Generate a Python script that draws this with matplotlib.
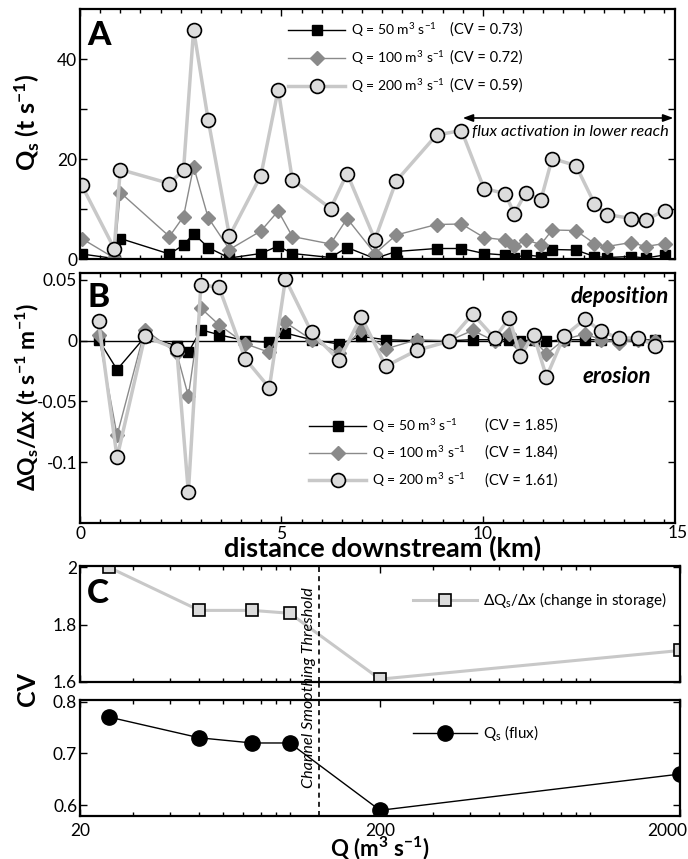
import numpy as np
import matplotlib
matplotlib.use("Agg")
import matplotlib.pyplot as plt
from matplotlib.ticker import FixedLocator, MultipleLocator, LogLocator, NullFormatter, FixedFormatter
import matplotlib.transforms as mtransforms

FONT = "Lato"
plt.rcParams["font.family"] = [FONT, "DejaVu Sans"]
plt.rcParams["mathtext.fontset"] = "custom"
plt.rcParams["mathtext.rm"] = FONT
plt.rcParams["mathtext.it"] = FONT + ":italic"
plt.rcParams["mathtext.bf"] = FONT + ":bold"
plt.rcParams["mathtext.default"] = "regular"
plt.rcParams["axes.unicode_minus"] = False

# ---------------- data ----------------
dist_km = [0.04, 0.85, 1.00, 2.22, 2.57, 2.82, 3.18, 3.71, 4.49, 4.92, 5.27, 6.22,
           6.63, 7.32, 7.85, 8.85, 9.47, 10.03, 10.55, 10.78, 11.07, 11.44, 11.72,
           12.31, 12.77, 13.08, 13.68, 14.04, 14.51]
qs_50 = [1.0, 0.1, 4.1, 1.0, 2.8, 5.1, 2.3, 0.2, 1.1, 2.6, 1.1, 0.3, 2.3, 0.1, 1.5,
         2.1, 2.1, 1.1, 0.8, 0.3, 0.8, 0.5, 1.9, 1.8, 0.5, 0.3, 0.5, 0.2, 0.8]
qs_100 = [4.1, 0.2, 13.3, 4.5, 8.5, 18.5, 8.3, 1.9, 5.6, 9.6, 4.5, 3.0, 8.1, 1.1, 4.8,
          6.9, 7.0, 4.3, 3.8, 2.6, 3.8, 2.9, 5.8, 5.7, 3.1, 2.5, 3.3, 2.5, 3.1]
qs_200 = [14.8, 2.1, 17.9, 15.1, 17.8, 45.9, 27.9, 4.6, 16.7, 33.9, 15.9, 10.1, 17.1,
          3.9, 15.6, 24.8, 25.7, 14.1, 13.1, 9.1, 13.3, 11.8, 20.1, 18.7, 11.1, 8.9,
          8.1, 7.8, 9.7]

mid_km = [0.46, 0.92, 1.61, 2.40, 2.69, 3.00, 3.45, 4.10, 4.70, 5.10, 5.75, 6.43,
          6.98, 7.59, 8.36, 9.16, 9.75, 10.29, 10.66, 10.93, 11.26, 11.58, 12.01,
          12.54, 12.93, 13.38, 13.86, 14.28]
dqdx_50 = [0.0008, -0.0238, 0.0030, -0.0041, -0.0096, 0.0090, 0.0049, 0.0000,
           -0.0014, 0.0063, 0.0008, -0.0027, 0.0035, 0.0008, 0.0000, 0.0000, 0.0008,
           0.0008, 0.0008, -0.0003, 0.0008, -0.0005, 0.0008, 0.0008, 0.0008, 0.0008,
           0.0008, 0.0008]
dqdx_100 = [0.0049, -0.0779, 0.0090, -0.0101, -0.0456, 0.0268, 0.0131, -0.0025,
            -0.0096, 0.0150, 0.0008, -0.0101, 0.0090, -0.0068, 0.0008, 0.0000, 0.0085,
            -0.0003, 0.0057, -0.0033, 0.0010, -0.0109, 0.0008, 0.0057, 0.0008, -0.0016,
            0.0008, 0.0000]
dqdx_200 = [0.0164, -0.0961, 0.0035, -0.0068, -0.1249, 0.0459, 0.0440, -0.0148,
            -0.0388, 0.0508, 0.0068, -0.0161, 0.0199, -0.0210, -0.0079, -0.0005, 0.0221,
            0.0022, 0.0186, -0.0128, 0.0049, -0.0298, 0.0036, 0.0178, 0.0077, 0.0022,
            0.0022, -0.0041]

labels_q = [r"Q = 50 m$^3$ s$^{-1}$", r"Q = 100 m$^3$ s$^{-1}$", r"Q = 200 m$^3$ s$^{-1}$"]
cv_labels_a = ["(CV = 0.73)", "(CV = 0.72)", "(CV = 0.59)"]
cv_labels_b = ["(CV = 1.85)", "(CV = 1.84)", "(CV = 1.61)"]

q_discharge = [25, 50, 75, 100, 200, 2000]
cv_dqdx = [2.00, 1.85, 1.85, 1.84, 1.61, 1.71]
cv_qs = [0.77, 0.73, 0.72, 0.72, 0.59, 0.66]
threshold_q = 125

# ---------------- styles ----------------
st50 = dict(color="black", lw=1.0, marker="s", ms=7.5, mfc="black", mec="black")
st100 = dict(color="#8a8a8a", lw=1.0, marker="D", ms=7, mfc="#8a8a8a", mec="#8a8a8a")
st200 = dict(color="#c8c8c8", lw=2.5, marker="o", ms=10, mfc="#dcdcdc", mec="black", mew=1.2)

W, H = 688, 859
fig = plt.figure(figsize=(W / 100, H / 100), dpi=100)


def px_axes(l, r, t, b):
    return fig.add_axes([l / W, 1 - b / H, (r - l) / W, (b - t) / H])


def style(ax):
    for s in ax.spines.values():
        s.set_linewidth(1.6)
    ax.tick_params(which="both", direction="in", top=True, right=True,
                   labelsize=12.5, width=1.0, pad=2)
    ax.tick_params(which="major", length=5)
    ax.tick_params(which="minor", length=3)


axA = px_axes(80, 675, 9, 259)
axB = px_axes(80, 675, 273, 523)
axC1 = px_axes(80, 680, 566, 682)
axC2 = px_axes(80, 680, 700, 816)

XMAX = 14.77
LEGFS = 10

# ---- Panel A ----
axA.plot(dist_km, qs_50, label=labels_q[0], **st50)
axA.plot(dist_km, qs_100, label=labels_q[1], **st100)
axA.plot(dist_km, qs_200, label=labels_q[2], **st200)
axA.set_xlim(0, XMAX)
axA.set_ylim(0, 50)
axA.xaxis.set_major_locator(FixedLocator([0, 5, 10]))
axA.xaxis.set_minor_locator(MultipleLocator(0.5))
axA.xaxis.set_major_formatter(NullFormatter())
axA.yaxis.set_major_locator(FixedLocator([0, 10, 20, 30, 40]))
axA.yaxis.set_major_formatter(FixedFormatter(["0", "", "20", "", "40"]))
style(axA)
legA = axA.legend(loc="upper left", bbox_to_anchor=(0.35, 0.952), frameon=False,
                  fontsize=LEGFS, handlelength=4.1, handletextpad=0.4, labelspacing=0.72,
                  borderpad=0, borderaxespad=0, numpoints=1)
for txt, cv in zip(legA.get_texts(), cv_labels_a):
    axA.annotate(cv, xy=(0.622, 0.5), xycoords=("axes fraction", txt),
                 va="center", ha="left", fontsize=LEGFS + 0.5, zorder=6)
axA.text(0.013, 0.856, "A", transform=axA.transAxes, fontsize=24,
         fontweight="black", ha="left", va="baseline")
axA.annotate("", xy=(14.73, 28.2), xytext=(9.5, 28.2),
             arrowprops=dict(arrowstyle="<|-|>,head_length=0.6,head_width=0.22",
                             color="black", lw=1.2, shrinkA=0, shrinkB=0))
axA.text(9.72, 25.3, "flux activation in lower reach", fontsize=11.8,
         style="italic", ha="left", va="center")

# ---- Panel B ----
axB.axhline(0, color="black", lw=1.0, zorder=1)
axB.plot(mid_km, dqdx_50, label=labels_q[0], **st50)
axB.plot(mid_km, dqdx_100, label=labels_q[1], **st100)
axB.plot(mid_km, dqdx_200, label=labels_q[2], **st200)
axB.set_xlim(0, XMAX)
axB.set_ylim(-0.15, 0.0557)
axB.xaxis.set_major_locator(FixedLocator([0, 5, 10]))
axB.xaxis.set_minor_locator(MultipleLocator(0.5))
axB.yaxis.set_major_locator(FixedLocator([-0.1, -0.05, 0, 0.05]))
axB.yaxis.set_major_formatter(FixedFormatter(["-0.1", "-0.05", "0", "0.05"]))
style(axB)
fig.text(688 / W, 1 - 533 / H, "15", ha="right", va="center", fontsize=12.5)
legB = axB.legend(loc="upper left", bbox_to_anchor=(0.385, 0.425), frameon=False,
                  fontsize=LEGFS, handlelength=4.1, handletextpad=0.4, labelspacing=0.68,
                  borderpad=0, borderaxespad=0, numpoints=1)
for txt, cv in zip(legB.get_texts(), cv_labels_b):
    axB.annotate(cv, xy=(0.681, 0.5), xycoords=("axes fraction", txt),
                 va="center", ha="left", fontsize=LEGFS + 0.5, zorder=6)
axB.text(0.013, 0.864, "B", transform=axB.transAxes, fontsize=24,
         fontweight="black", ha="left", va="baseline")
axB.text(14.62, 0.036, "deposition", fontsize=16, fontweight="bold",
         style="italic", ha="right", va="center")
axB.text(13.33, -0.0295, "erosion", fontsize=16, fontweight="bold",
         style="italic", ha="center", va="center")

# ---- Panel C ----
axC1.plot(q_discharge, cv_dqdx, color="#c8c8c8", lw=2.2, marker="s", ms=9,
          mfc="#dcdcdc", mec="black", mew=1.2,
          label=r"$\Delta$Q$_s$/$\Delta$x (change in storage)")
axC2.plot(q_discharge, cv_qs, color="black", lw=1.0, marker="o", ms=11,
          mfc="black", mec="black", label=r"Q$_s$ (flux)")
for ax in (axC1, axC2):
    ax.set_xscale("log")
    ax.set_xlim(20, 2000)
    ax.xaxis.set_major_locator(FixedLocator([20, 200, 2000]))
    ax.xaxis.set_minor_locator(LogLocator(base=10, subs=np.arange(1, 10)))
    ax.xaxis.set_minor_formatter(NullFormatter())
    style(ax)
axC1.xaxis.set_major_formatter(NullFormatter())
axC2.xaxis.set_major_formatter(FixedFormatter(["20", "200", "2000"]))
axC2.tick_params(axis="x", pad=5)
axC1.set_ylim(1.6, 2.005)
axC1.yaxis.set_major_locator(FixedLocator([1.6, 1.8, 2.0]))
axC1.yaxis.set_major_formatter(FixedFormatter(["1.6", "1.8", "2"]))
axC2.set_ylim(0.579, 0.803)
axC2.yaxis.set_major_locator(FixedLocator([0.6, 0.7, 0.8]))
axC2.yaxis.set_major_formatter(FixedFormatter(["0.6", "0.7", "0.8"]))

axC1.axvline(threshold_q, color="black", lw=1.2, ls=(0, (3, 2.5)))
axC2.axvline(threshold_q, ymin=0, ymax=1.16, color="black", lw=1.2,
             ls=(0, (3, 2.5)), clip_on=False)
axC2.text(116, 1.103, "Channel Smoothing Threshold", rotation=90, fontsize=11.6,
          style="italic", ha="center", va="center",
          transform=mtransforms.blended_transform_factory(axC2.transData, axC2.transAxes))

axC1.legend(loc="center left", bbox_to_anchor=(0.555, 0.707), frameon=False,
            fontsize=11, handlelength=4.2, handletextpad=0.4, borderpad=0,
            borderaxespad=0, numpoints=1)
axC2.legend(loc="center left", bbox_to_anchor=(0.555, 0.716), frameon=False,
            fontsize=11, handlelength=4.2, handletextpad=0.4, borderpad=0,
            borderaxespad=0, numpoints=1)
axC1.text(0.011, 0.681, "C", transform=axC1.transAxes, fontsize=24,
          fontweight="black", ha="left", va="baseline")

# ---- axis labels ----
fig.text(27 / W, 1 - 122 / H, r"Q$_s$ (t s$^{-1}$)", rotation=90, ha="center",
         va="center", fontsize=18, fontweight="bold")
fig.text(27 / W, 1 - 397 / H, r"$\Delta$Q$_s$/$\Delta$x (t s$^{-1}$ m$^{-1}$)",
         rotation=90, ha="center", va="center", fontsize=16.5, fontweight="bold")
fig.text(27 / W, 1 - 689 / H, "CV", rotation=90, ha="center", va="center",
         fontsize=18, fontweight="bold")
fig.text(383 / W, 1 - 548 / H, "distance downstream (km)", ha="center", va="center",
         fontsize=19.5, fontweight="bold")
fig.text(380 / W, 1 - 848 / H, r"Q (m$^3$ s$^{-1}$)", ha="center", va="center",
         fontsize=16, fontweight="bold")

fig.canvas.draw()
# shift the last tick label of the log axis so it stays inside the figure
last = axC2.xaxis.get_majorticklabels()[-1]
last.set_horizontalalignment("right")
last.set_transform(last.get_transform() + mtransforms.ScaledTranslation(7 / 100, 0, fig.dpi_scale_trans))
fig.savefig("out.png", dpi=100)
